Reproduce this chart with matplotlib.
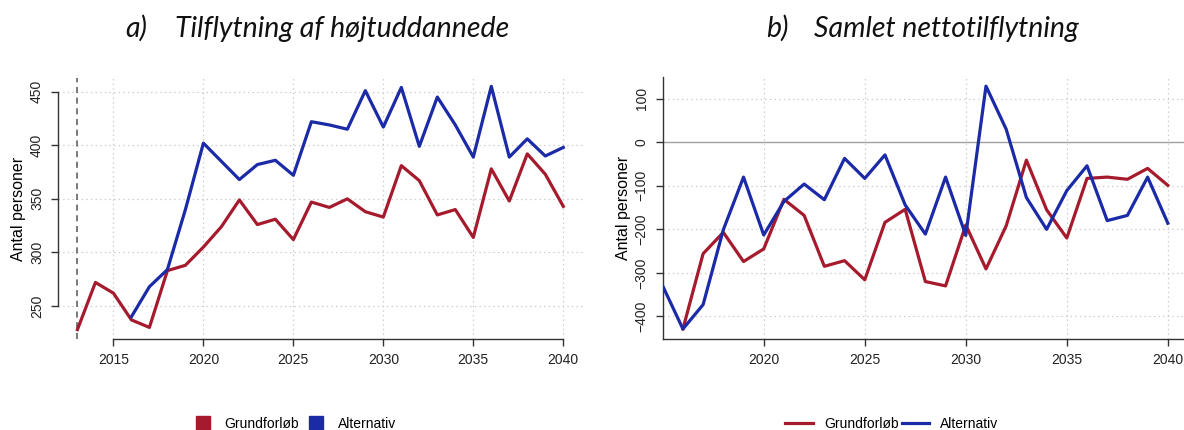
import matplotlib
matplotlib.use("Agg")
import matplotlib.pyplot as plt
from matplotlib.lines import Line2D
import numpy as np

# ---- data ----
years_a_base = list(range(2013, 2041))
grund_a = [228, 272, 262, 237, 230, 283, 288, 305, 324, 349, 326, 331, 312, 347,
           342, 350, 338, 333, 381, 367, 335, 340, 314, 378, 348, 392, 373, 343]
years_a_alt = list(range(2016, 2041))
alt_a = [240, 268, 284, 340, 402, 385, 368, 382, 386, 372, 422, 419, 415, 451,
         417, 454, 399, 445, 419, 389, 455, 389, 406, 390, 398]

years_b_base = list(range(2016, 2041))
grund_b = [-429, -256, -207, -274, -245, -131, -168, -285, -272, -316, -184, -154,
           -320, -330, -190, -291, -192, -41, -155, -220, -83, -80, -85, -60, -99]
years_b_alt = list(range(2015, 2041))
alt_b = [-330, -429, -373, -201, -80, -213, -136, -96, -132, -37, -83, -29, -144,
         -211, -80, -214, 129, 30, -127, -200, -111, -54, -180, -168, -80, -186]

yticks_a = [250, 300, 350, 400, 450]
yticks_b = [-400, -300, -200, -100, 0, 100]
xticks_a = [2015, 2020, 2025, 2030, 2035, 2040]
xticks_b = [2020, 2025, 2030, 2035, 2040]

title_a = "Tilflytning af højtuddannede"
title_b = "Samlet nettotilflytning"
ylabel = "Antal personer"
labels = ["Grundforløb", "Alternativ"]

RED = "#A51B2D"
BLUE = "#1B2AA6"
W, H = 1184, 430

fig = plt.figure(figsize=(W / 100, H / 100), dpi=100)
plt.rcParams['font.family'] = ['Liberation Sans', 'DejaVu Sans']

def frac(x0, y0, x1, y1):
    return [x0 / W, 1 - y1 / H, (x1 - x0) / W, (y1 - y0) / H]

grid_kw = dict(color="#cfcfcf", linestyle=(0, (1.2, 2.5)), linewidth=0.9, zorder=0)
lw = 2.3

# ---- panel a ----
ax1 = fig.add_axes(frac(58, 78, 582.7, 339))
ax1.set_xlim(2011.92, 2041.08)
ax1.set_ylim(219.2, 462.8)
for x in xticks_a:
    ax1.axvline(x, **grid_kw)
for y in yticks_a:
    ax1.axhline(y, **grid_kw)
ax1.axvline(2013, color="#555555", linestyle=(0, (4, 3)), linewidth=1.1, zorder=1)
l1, = ax1.plot(years_a_base, grund_a, color=RED, lw=lw, zorder=3)
l2, = ax1.plot(years_a_alt, alt_a, color=BLUE, lw=lw, zorder=3)
ax1.set_xticks(xticks_a)
ax1.set_yticks(yticks_a)
ax1.spines['top'].set_visible(False)
ax1.spines['right'].set_visible(False)
ax1.spines['left'].set_bounds(250, 450)
ax1.spines['bottom'].set_bounds(2015, 2040)
ax1.set_ylabel(ylabel, fontsize=11.5, labelpad=3)

# ---- panel b ----
ax2 = fig.add_axes(frac(662.7, 76.7, 1184, 339))
ax2.set_xlim(2015, 2040.8)
ax2.set_ylim(-452, 150.7)
for x in xticks_b:
    ax2.axvline(x, **grid_kw)
for y in yticks_b:
    if y != 0:
        ax2.axhline(y, **grid_kw)
ax2.axhline(0, color="#a0a0a0", linewidth=1.0, zorder=1)
ax2.plot(years_b_base, grund_b, color=RED, lw=lw, zorder=3)
ax2.plot(years_b_alt, alt_b, color=BLUE, lw=lw, zorder=3)
ax2.set_xticks(xticks_b)
ax2.set_yticks(yticks_b)
ax2.spines['top'].set_visible(False)
ax2.spines['right'].set_visible(False)
ax2.set_ylabel(ylabel, fontsize=11.5, labelpad=3)

for ax in (ax1, ax2):
    for s in ('left', 'bottom'):
        ax.spines[s].set_color("#333333")
        ax.spines[s].set_linewidth(1.0)
    ax.tick_params(axis='both', length=5, width=1.0, color="#333333",
                   labelsize=10, labelcolor="#222222", pad=5)
    for t in ax.get_yticklabels():
        t.set_rotation(90)
        t.set_va('center')

# ---- titles ----
tkw = dict(fontsize=20.5, style='italic', family=['Lato', 'DejaVu Sans'], color="#111111")
fig.text(125 / W, 1 - 37 / H, "a)", ha='left', va='baseline', **tkw)
fig.text(175 / W, 1 - 37 / H, title_a, ha='left', va='baseline', **tkw)
fig.text(766 / W, 1 - 37 / H, "b)", ha='left', va='baseline', **tkw)
fig.text(814 / W, 1 - 37 / H, title_b, ha='left', va='baseline', **tkw)

# ---- legends ----
sq_handles = [Line2D([], [], marker='s', linestyle='none', markersize=10,
                     markerfacecolor=c, markeredgecolor=c) for c in (RED, BLUE)]
fig.legend(sq_handles, labels, loc='center', bbox_to_anchor=(294 / W, 1 - 424 / H),
           ncol=2, frameon=False, fontsize=10, handlelength=1.5, handletextpad=0.8,
           columnspacing=0.5, borderpad=0)
ln_handles = [Line2D([], [], color=c, lw=lw) for c in (RED, BLUE)]
fig.legend(ln_handles, labels, loc='center', bbox_to_anchor=(892 / W, 1 - 424 / H),
           ncol=2, frameon=False, fontsize=10, handlelength=2.0, handletextpad=0.8,
           columnspacing=0.2, borderpad=0)

fig.savefig("out.png", dpi=100)
